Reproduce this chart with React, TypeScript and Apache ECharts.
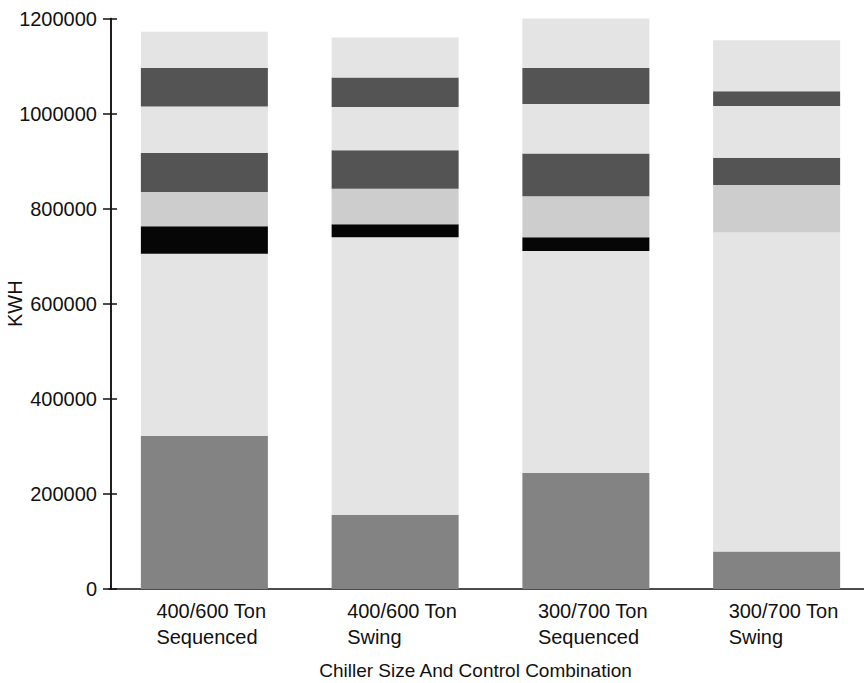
import React, { useEffect, useRef } from "react";
import * as echarts from "echarts";

const categories = [
  "400/600 Ton\nSequenced",
  "400/600 Ton\nSwing",
  "300/700 Ton\nSequenced",
  "300/700 Ton\nSwing",
];

// stacked segments, bottom to top (KWH)
const baseSegment = [322000, 156000, 244000, 79000];
const lowerLight = [383000, 584000, 467000, 671000];
const blackBand = [58000, 27000, 29000, 0];
const mediumBand = [72000, 75000, 86000, 100000];
const lowerDark = [82000, 81000, 90000, 57000];
const middleLight = [98000, 91000, 104000, 109000];
const upperDark = [81000, 62000, 76000, 31000];
const topLight = [76000, 84000, 104000, 107000];

const yTicks = [0, 200000, 400000, 600000, 800000, 1000000, 1200000];

const FONT = "'Liberation Sans', Arial, Helvetica, sans-serif";

const segments = [
  { name: "Segment 1", data: baseSegment, color: "#838383" },
  { name: "Segment 2", data: lowerLight, color: "#e4e4e4" },
  { name: "Segment 3", data: blackBand, color: "#060606" },
  { name: "Segment 4", data: mediumBand, color: "#cdcdcd" },
  { name: "Segment 5", data: lowerDark, color: "#545454" },
  { name: "Segment 6", data: middleLight, color: "#e4e4e4" },
  { name: "Segment 7", data: upperDark, color: "#545454" },
  { name: "Segment 8", data: topLight, color: "#e4e4e4" },
];

export default function App() {
  const ref = useRef<HTMLDivElement>(null);
  useEffect(() => {
    if (!ref.current) return;
    const chart = echarts.init(ref.current, null, { renderer: "svg" });
    const yMin = yTicks[0];
    const yMax = yTicks[yTicks.length - 1];
    const yInterval = yTicks[1] - yTicks[0];
    const axisCommon = {
      type: "value" as const,
      position: "left" as const,
      min: yMin,
      max: yMax,
      interval: yInterval,
      offset: -2,
      splitLine: { show: false },
      axisLine: { show: true, lineStyle: { color: "#111", width: 1.5 } },
    };
    chart.setOption({
      animation: false,
      backgroundColor: "#ffffff",
      grid: {
        left: 109,
        right: -8,
        top: 18.5,
        bottom: 94,
        containLabel: false,
        outerBoundsMode: "none",
      },
      xAxis: {
        type: "category",
        data: categories,
        axisTick: { show: false },
        axisLine: { lineStyle: { color: "#111", width: 1.5 } },
        axisLabel: {
          interval: 0,
          margin: 9,
          color: "#111",
          fontFamily: FONT,
          fontSize: 20,
          lineHeight: 26,
          align: "center",
          formatter: (v: string) =>
            v
              .split("\n")
              .map((s) => `{a|${s}}`)
              .join("\n"),
          rich: {
            a: {
              width: 96,
              align: "left",
              fontSize: 20,
              lineHeight: 26,
              fontFamily: FONT,
              color: "#111",
            },
          },
        },
        name: "Chiller Size And Control Combination",
        nameLocation: "middle",
        nameGap: 72,
        nameMoveOverlap: false,
        nameTextStyle: {
          fontFamily: FONT,
          fontSize: 19,
          color: "#111",
          padding: [0, 30, 0, 0],
        },
      },
      yAxis: [
        {
          ...axisCommon,
          name: "KWH",
          nameLocation: "middle",
          nameGap: 86,
          nameMoveOverlap: false,
          nameTextStyle: { fontFamily: FONT, fontSize: 20, color: "#111" },
          axisTick: { show: true, inside: false, length: 8, lineStyle: { color: "#111", width: 1.5 } },
          axisLabel: {
            margin: 14,
            color: "#111",
            fontFamily: FONT,
            fontSize: 20,
            formatter: (v: number) => String(v),
          },
        },
        {
          ...axisCommon,
          axisTick: { show: true, inside: true, length: 6, lineStyle: { color: "#111", width: 1.5 } },
          axisLabel: { show: false },
        },
      ],
      series: segments.map((s) => ({
        name: s.name,
        type: "bar",
        stack: "total",
        yAxisIndex: 0,
        barWidth: 127,
        data: s.data,
        itemStyle: { color: s.color },
        emphasis: { disabled: true },
      })),
    });
    return () => chart.dispose();
  }, []);
  return (
    <div
      ref={ref}
      style={{ position: "absolute", left: 0, top: 0, width: 864, height: 683 }}
    />
  );
}
